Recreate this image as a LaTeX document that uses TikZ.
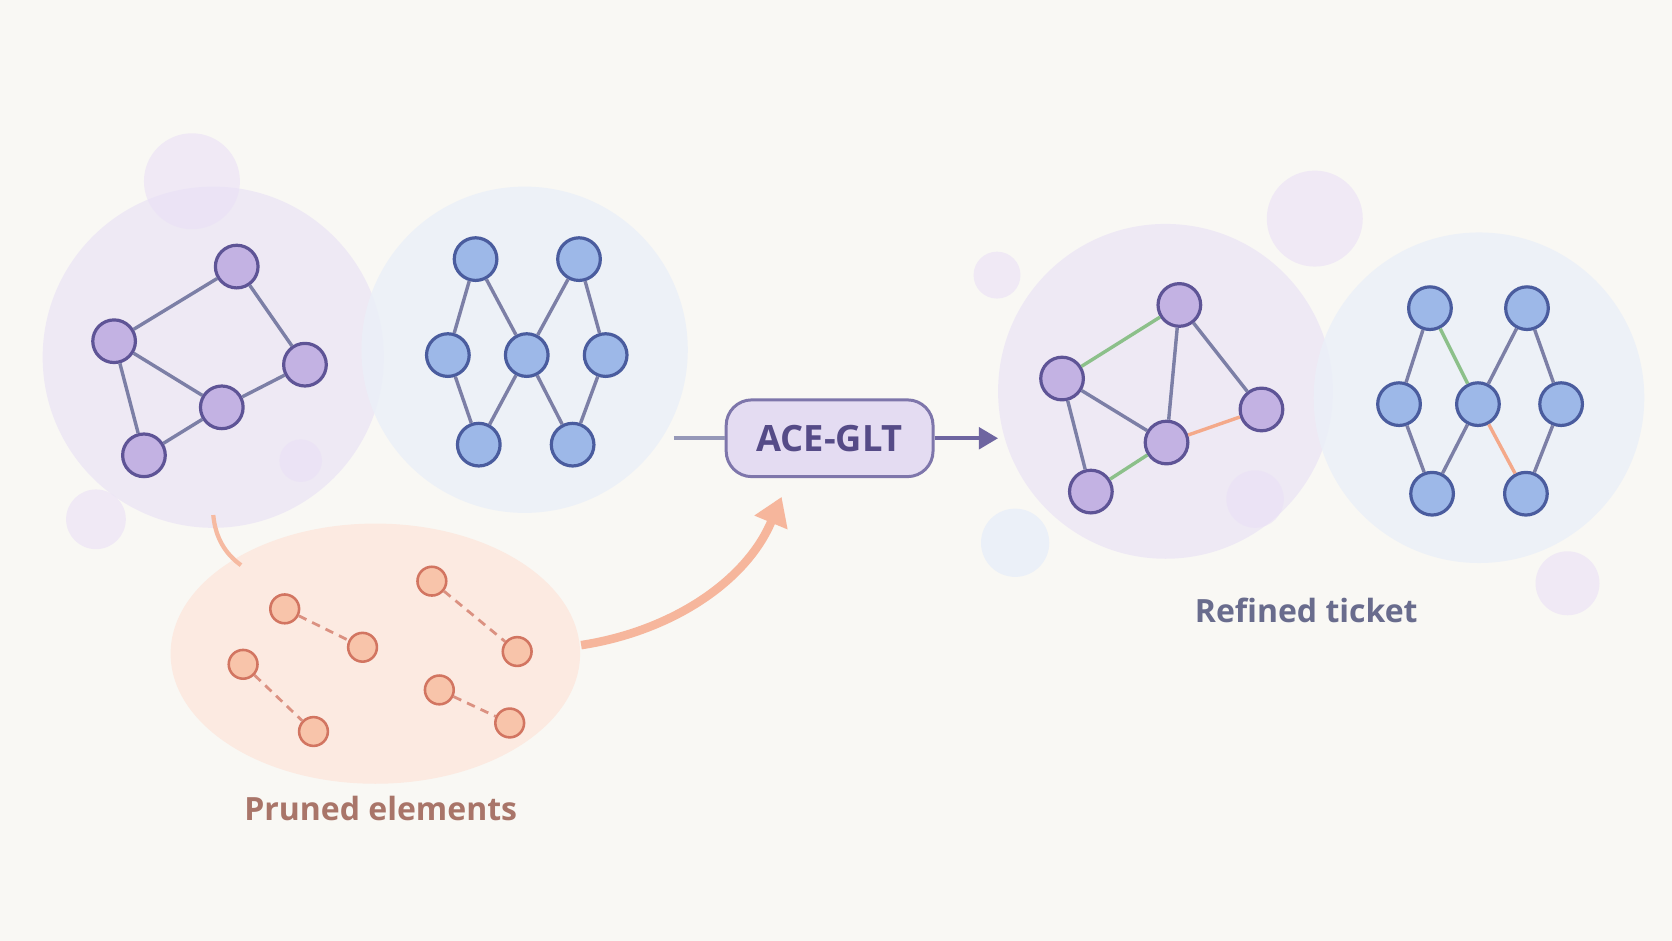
\documentclass[tikz,border=0pt]{standalone}
\usepackage{fontspec}
\setmainfont{Open Sans}
\usetikzlibrary{arrows.meta}
\definecolor{bgc}{HTML}{F9F8F4}
\definecolor{purpfill}{HTML}{C3B2E3}
\definecolor{purpline}{HTML}{5E5496}
\definecolor{bluefill}{HTML}{9DB8E8}
\definecolor{blueline}{HTML}{4A5C9E}
\definecolor{edgec}{HTML}{7C7FA6}
\definecolor{orfill}{HTML}{F8C4AA}
\definecolor{orline}{HTML}{D27561}
\definecolor{grn}{HTML}{8CC08A}
\definecolor{orng}{HTML}{F4A98A}
\definecolor{pbub}{HTML}{EDE7F5}
\definecolor{bbub}{HTML}{EBF0F8}
\tikzset{
  pnode/.style = {circle, draw = purpline, fill = purpfill, line width = 1.5pt, minimum size = 20pt, inner sep = 0pt},
  bnode/.style = {circle, draw = blueline, fill = bluefill, line width = 1.5pt, minimum size = 20pt, inner sep = 0pt},
  onode/.style = {circle, draw = orline, fill = orfill, line width = 1.2pt, minimum size = 13.5pt, inner sep = 0pt},
  edge/.style = {draw = edgec, line width = 1.6pt},
  oedge/.style = {draw = orline!80, line width = 1.3pt, dash pattern = on 4pt off 3pt}
}
\begin{document}
\begin{tikzpicture}[x = 0.5pt, y = -0.5pt]
\fill[bgc] (0, 0) rectangle (1568, 882);
\useasboundingbox (0, 0) rectangle (1568, 882);

% background bubbles
\fill[pbub, opacity = 0.85] (200, 335) circle (160);
\fill[bbub, opacity = 0.85] (492, 328) circle (153);
\fill[pbub, opacity = 0.85] (1093, 367) circle (157);
\fill[bbub, opacity = 0.85] (1387, 373) circle (155);
\foreach \x/\y/\r in {180/170/45, 90/487/28, 282/432/20, 935/258/22, 1233/205/45, 1177/468/27, 1470/547/30}
  \fill[purple!40!blue!12, opacity = 0.6] (\x, \y) circle (\r);
\fill[bbub] (952, 509) circle (32);
\fill[orfill!35] (352, 613) ellipse (192 and 122);

% left graph
\node[pnode] (la) at (222, 250) {};
\node[pnode] (lb) at (107, 320) {};
\node[pnode] (lc) at (286, 342) {};
\node[pnode] (ld) at (208, 382) {};
\node[pnode] (le) at (135, 427) {};
\foreach \u/\v in {la/lb, la/lc, lb/ld, lc/ld, lb/le, ld/le}
  \draw[edge] (\u) -- (\v);

% left layered net
\node[bnode] (lt1) at (446, 243) {};
\node[bnode] (lt2) at (543, 243) {};
\node[bnode] (lm1) at (420, 333) {};
\node[bnode] (lm2) at (494, 333) {};
\node[bnode] (lm3) at (568, 333) {};
\node[bnode] (lb1) at (449, 417) {};
\node[bnode] (lb2) at (537, 417) {};
\foreach \u/\v in {lt1/lm1, lt1/lm2, lt2/lm2, lt2/lm3, lm1/lb1, lm2/lb1, lm2/lb2, lm3/lb2}
  \draw[edge] (\u) -- (\v);

% pruned elements
\node[onode] (p1) at (267, 571) {};
\node[onode] (p2) at (340, 607) {};
\node[onode] (p3) at (405, 545) {};
\node[onode] (p4) at (485, 611) {};
\node[onode] (p5) at (228, 623) {};
\node[onode] (p6) at (294, 686) {};
\node[onode] (p7) at (412, 647) {};
\node[onode] (p8) at (478, 678) {};
\foreach \u/\v in {p1/p2, p3/p4, p5/p6, p7/p8}
  \draw[oedge] (\u) -- (\v);
\node[text = orline!70!black!80, font = \fontsize{15}{18}\selectfont\bfseries] (prl) at (357, 758) {Pruned elements};
\draw[orng!80, line width = 2pt] (200, 483) .. controls (202, 505) and (212, 520) .. (226, 530);
\draw[orng!85, line width = 4pt, -{Triangle[length = 13pt, width = 16pt]}] (545, 605) .. controls (630, 592) and (700, 545) .. (733, 466);

% ACE-GLT
\node[draw = purpline!80, fill = purpfill!45, line width = 1.4pt, rounded corners = 12pt, minimum width = 97pt, minimum height = 36pt, text = purpline!90!black, font = \fontsize{17}{20}\selectfont\bfseries] (ace) at (778, 411) {ACE-GLT};
\coordinate (ain) at (632, 411);
\coordinate (aout) at (936, 411);
\draw[edgec!80, line width = 2pt] (ain) -- (ace.west);
\draw[purpline!90, line width = 2pt, -{Triangle[length = 9pt, width = 10pt]}] (ace.east) -- (aout);

% right graph
\node[pnode] (ra) at (1106, 286) {};
\node[pnode] (rb) at (996, 355) {};
\node[pnode] (rc) at (1183, 384) {};
\node[pnode] (rd) at (1094, 415) {};
\node[pnode] (re) at (1023, 461) {};
\draw[edge, draw = grn] (rb) -- (ra);
\draw[edge, draw = grn] (re) -- (rd);
\draw[edge, draw = orng] (rd) -- (rc);
\foreach \u/\v in {ra/rd, ra/rc, rb/rd, rb/re}
  \draw[edge] (\u) -- (\v);

% right layered net
\node[bnode] (rt1) at (1341, 289) {};
\node[bnode] (rt2) at (1432, 289) {};
\node[bnode] (rm1) at (1312, 379) {};
\node[bnode] (rm2) at (1386, 379) {};
\node[bnode] (rm3) at (1464, 379) {};
\node[bnode] (rb1) at (1343, 463) {};
\node[bnode] (rb2) at (1431, 463) {};
\draw[edge, draw = grn] (rt1) -- (rm2);
\draw[edge, draw = orng] (rm2) -- (rb2);
\foreach \u/\v in {rt1/rm1, rt2/rm2, rt2/rm3, rm1/rb1, rm2/rb1, rm3/rb2}
  \draw[edge] (\u) -- (\v);
\node[text = edgec!85!black, font = \fontsize{15}{18}\selectfont\bfseries] (rtl) at (1225, 572) {Refined ticket};
\end{tikzpicture}
\end{document}
